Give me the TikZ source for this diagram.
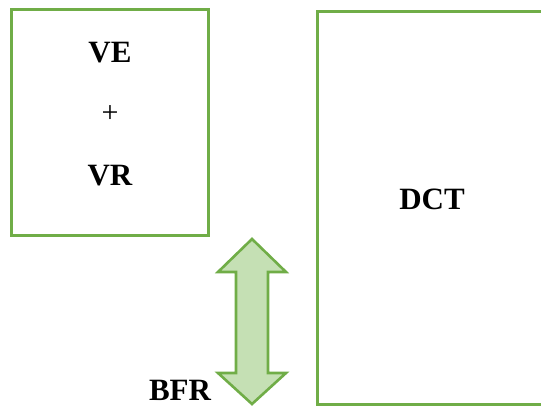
\documentclass[tikz,border=0pt]{standalone}
\usepackage{fontspec}
\setmainfont{Liberation Serif}
\definecolor{boxgreen}{HTML}{70AD47}
\definecolor{arrowfill}{HTML}{C5E0B4}
\begin{document}
\begin{tikzpicture}[x=1pt,y=-1pt,
  lbl/.style={font=\fontsize{31}{36}\selectfont\bfseries, anchor=base, inner sep=0pt},
  plus/.style={font=\fontsize{30}{36}\selectfont, anchor=center, inner sep=0pt},
  greenbox/.style={draw=boxgreen, line width=3pt},
  dblarrow/.style={draw=boxgreen, fill=arrowfill, line width=2.6pt, line join=miter}]
\useasboundingbox (0,0) rectangle (541,407);
\begin{scope}
\clip (0,0) rectangle (541,407);
% left box
\draw[greenbox] (11,9) rectangle (208,235);
% right box
\draw[greenbox] (317,11) rectangle (548,404);
% double arrow
\coordinate (tt) at (252,239);
\coordinate (bt) at (252,404);
\draw[dblarrow] (tt) -- (286,272) -- (268,272) -- (268,373) -- (286,373) -- (bt)
  -- (218,373) -- (236,373) -- (236,272) -- (218,272) -- cycle;
\end{scope}
\node[lbl] (ve) at (110,62) {VE};
\node[plus] (pl) at (110,114) {+};
\node[lbl] (vr) at (110,185) {VR};
\node[lbl] (dct) at (432,209) {DCT};
\node[lbl] (bfr) at (180,400) {BFR};
\end{tikzpicture}
\end{document}
